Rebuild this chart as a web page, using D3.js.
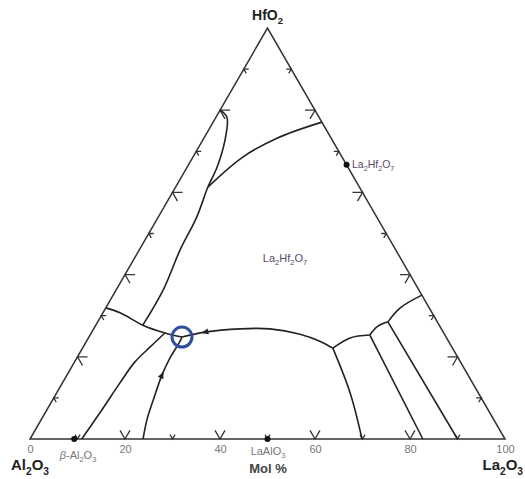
<!DOCTYPE html>
<html><head><meta charset="utf-8">
<script src="https://cdn.jsdelivr.net/npm/d3@7"></script>
<style>body{margin:0;background:#fff}svg{display:block}</style>
</head><body><svg id="c" width="525" height="479"></svg>
<script>
// ---- data (mol % La2O3, mol % HfO2; Al2O3 is the remainder) ----
const axisTicks = [0, 20, 40, 60, 80, 100];
const edgeTicks = [10, 20, 30, 40, 50, 60, 70, 80, 90];
const eutectic = [19.6, 24.8];
const ridgeTop = [[0,80],[2.3,78.3],[4.7,72.7],[6.3,66.2],[6.8,61.3],[8.1,54.0],[8.6,46.0],[9.9,36.3],[9.9,27.7]];
const upperRight = [[6.8,61.3],[10.5,68.6],[15.4,73.2],[22.9,77.1]];
const leftBranch = [[0,31.9],[3.6,30.7],[9.9,27.7],[15.5,25.8],[19.6,24.8]];
const lowerLeft = [[15.5,25.8],[14.1,22.4],[12.7,18.7],[12.1,13.6],[11.6,7.1],[10.9,0]];
const lowerMid = [[19.6,24.8],[19.7,23.4],[19.6,19.7],[20.0,15.6],[21.2,9.5],[22.3,4.6],[23.8,0]];
const longMid = [[19.6,24.8],[23.8,26.0],[30.8,26.8],[37.1,26.8],[44.1,25.5],[49.1,23.8],[52.7,22.1]];
const rightA = [[52.7,22.1],[61.8,11.2],[69.9,0]];
const arcAB = [[52.7,22.1],[55.1,24.6],[58.9,25.3]];
const arcBC = [[58.9,25.3],[59.4,27.3],[61.1,28.5]];
const arcCD = [[61.1,28.5],[62.0,31.9],[65.0,35.0]];
const rightB = [[58.9,25.3],[82.7,0]];
const rightC = [[61.1,28.5],[90.0,0]];
const curveArrows = [[longMid, 1], [lowerMid, 3]]; // arrow at index, pointing to previous point
const compounds = [
  {name: "β-Al2O3", la: 9.3, hf: 0},
  {name: "LaAlO3", la: 50, hf: 0},
  {name: "La2Hf2O7", la: 33.3, hf: 66.7}
];

// ---- scales ----
const x = d3.scaleLinear().domain([0, 100]).range([30, 505]);
const y = d3.scaleLinear().domain([0, 100]).range([439, 28]);
const px = d => x(d[0] + d[1] / 2);
const py = d => y(d[1]);

const svg = d3.select("#c");
const font = "'Liberation Sans', Arial, sans-serif";

// triangle
const tri = [[0,0],[100,0],[0,100]];
svg.append("path")
  .attr("d", d3.line().x(px).y(py)(tri) + "Z")
  .attr("fill", "none").attr("stroke", "#333").attr("stroke-width", 1.5);

// edge chevrons
function chevron(p, inward, len) {
  const a1 = (inward - 30) * Math.PI / 180, a2 = (inward + 30) * Math.PI / 180;
  const X = px(p), Y = py(p);
  return `M${X + len*Math.cos(a1)},${Y + len*Math.sin(a1)}L${X},${Y}L${X + len*Math.cos(a2)},${Y + len*Math.sin(a2)}`;
}
const chev = svg.append("g").attr("fill", "none").attr("stroke", "#333").attr("stroke-width", 1.3);
edgeTicks.forEach(v => {
  const len = v % 20 === 0 ? 10 : 5;
  chev.append("path").attr("d", chevron([v, 0], -90, len));
  chev.append("path").attr("d", chevron([0, v], 30, len));
  chev.append("path").attr("d", chevron([100 - v, v], 150, len));
});

// boundary curves
const smooth = d3.line().x(px).y(py).curve(d3.curveCatmullRom.alpha(0.5));
const g = svg.append("g").attr("fill", "none").attr("stroke", "#222").attr("stroke-width", 1.6);
[ridgeTop, upperRight, leftBranch, lowerLeft, lowerMid, longMid, rightA, arcAB, arcBC, arcCD, rightB, rightC]
  .forEach(c => g.append("path").attr("d", smooth(c)));

// arrowheads on curves
curveArrows.forEach(([c, i]) => {
  const X = px(c[i]), Y = py(c[i]);
  const ang = Math.atan2(py(c[i-1]) - Y, px(c[i-1]) - X);
  const L = 7, W = 3;
  const tx = X + L/2*Math.cos(ang), ty = Y + L/2*Math.sin(ang);
  const bx = X - L/2*Math.cos(ang), by = Y - L/2*Math.sin(ang);
  const nx = -Math.sin(ang)*W, ny = Math.cos(ang)*W;
  svg.append("path").attr("d", `M${tx},${ty}L${bx+nx},${by+ny}L${bx-nx},${by-ny}Z`).attr("fill", "#222");
});

// eutectic circle
svg.append("circle").attr("cx", px(eutectic)).attr("cy", py(eutectic)).attr("r", 10)
  .attr("fill", "none").attr("stroke", "#2e4f9e").attr("stroke-width", 3);

// compound dots
svg.append("g").selectAll("circle").data(compounds).join("circle")
  .attr("cx", d => px([d.la, d.hf])).attr("cy", d => py([d.la, d.hf])).attr("r", 3).attr("fill", "#111");

// bottom axis labels
const ax = svg.append("g").attr("transform", "translate(0,439)")
  .call(d3.axisBottom(x).tickValues(axisTicks).tickSize(0).tickPadding(6).tickFormat(d3.format("d")));
ax.select(".domain").remove();
ax.selectAll("text").attr("font-family", font).attr("font-size", 11).attr("fill", "#777");

// helper for formula text with subscripts
function formula(sel, str, size) {
  const parts = str.match(/[^0-9]+|[0-9]+/g);
  parts.forEach((p, i) => {
    const isNum = /^[0-9]+$/.test(p);
    const prevNum = i > 0 && /^[0-9]+$/.test(parts[i-1]);
    const t = sel.append("tspan").text(p);
    if (isNum) t.attr("font-size", size * 0.68).attr("dy", size * 0.3);
    else if (prevNum) t.attr("dy", -size * 0.3);
  });
}

// vertex labels
const vt = svg.append("g").attr("font-family", font).attr("font-weight", "bold").attr("fill", "#222");
formula(vt.append("text").attr("x", 267.5).attr("y", 20).attr("text-anchor", "middle").attr("font-size", 14), "HfO2", 14);
formula(vt.append("text").attr("x", 11).attr("y", 470).attr("font-size", 15), "Al2O3", 15);
formula(vt.append("text").attr("x", 523).attr("y", 470).attr("text-anchor", "end").attr("font-size", 15), "La2O3", 15);

svg.append("text").attr("x", 268).attr("y", 473).attr("text-anchor", "middle")
  .attr("font-family", font).attr("font-weight", "bold").attr("font-size", 13).attr("fill", "#444").text("Mol %");

// compound labels
const b = svg.append("text").attr("x", 78).attr("y", 459).attr("text-anchor", "middle")
  .attr("font-family", font).attr("font-size", 11).attr("fill", "#777");
b.append("tspan").attr("font-style", "italic").text("β");
formula(b, "-Al2O3", 11);
formula(svg.append("text").attr("x", 268).attr("y", 455).attr("text-anchor", "middle")
  .attr("font-family", font).attr("font-size", 11).attr("fill", "#777"), "LaAlO3", 11);
formula(svg.append("text").attr("x", 352).attr("y", 168)
  .attr("font-family", font).attr("font-size", 10.5).attr("fill", "#5a4a6a"), "La2Hf2O7", 10.5);
formula(svg.append("text").attr("x", 285).attr("y", 262).attr("text-anchor", "middle")
  .attr("font-family", font).attr("font-size", 11).attr("fill", "#5a4a6a"), "La2Hf2O7", 11);
</script></body></html>
